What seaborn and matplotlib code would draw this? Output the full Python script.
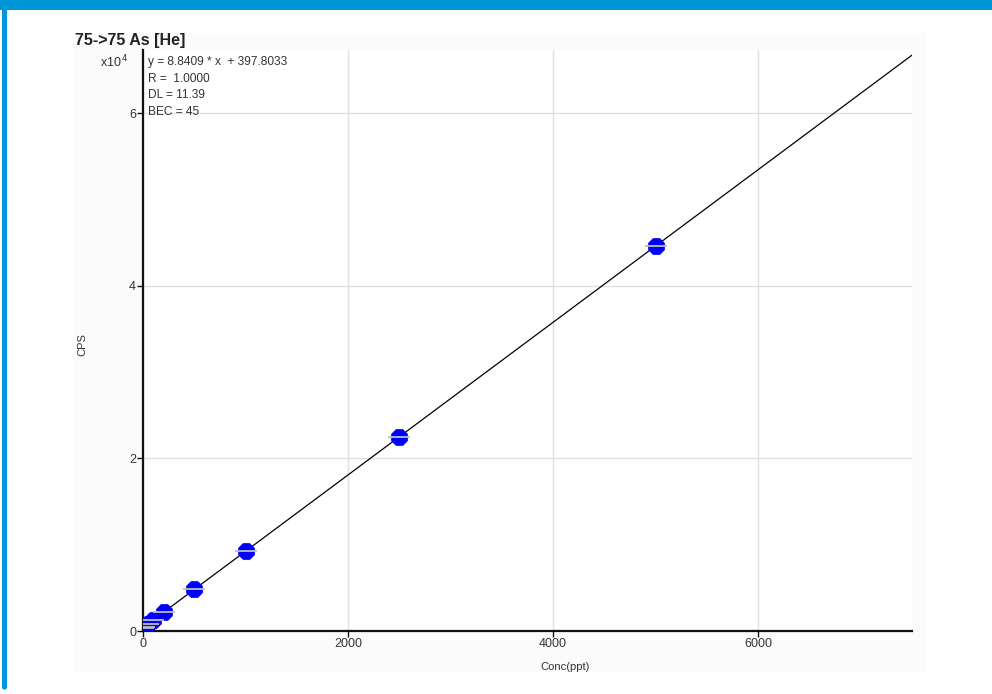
import numpy as np
import pandas as pd
import matplotlib
matplotlib.use("Agg")
import matplotlib.pyplot as plt
from matplotlib.patches import Rectangle, FancyBboxPatch
import seaborn as sns

# calibration standards (ppt) and measured CPS
conc = [0, 10, 50, 100, 200, 500, 1000, 2500, 5000]
cps = [380, 480, 840, 1290, 2170, 4830, 9280, 22450, 44620]
slope = 8.8409
intercept = 397.8033
fit_x = [0, 7500]
stats_lines = ["y = 8.8409 * x  + 397.8033", "R =  1.0000", "DL = 11.39", "BEC = 45"]
x_ticks = [0, 2000, 4000, 6000]
y_ticks = [0, 20000, 40000, 60000]
y_ticklabels = ["0", "2", "4", "6"]

sns.set_theme(style="white")
plt.rcParams['font.family'] = ['Liberation Sans', 'DejaVu Sans']

fig = plt.figure(figsize=(9.92, 6.94), dpi=100)
fig.patch.set_facecolor("white")

# faint plot panel background
fig.patches.append(Rectangle((73 / 992, 1 - 672 / 694), (926 - 73) / 992, (672 - 33) / 694,
                             transform=fig.transFigure, facecolor="#fbfbfb", edgecolor="none", zorder=-2))
# blue frame
blue = "#0096d8"
fig.patches.append(Rectangle((0, 1 - 10 / 694), 1, 10 / 694, transform=fig.transFigure,
                             facecolor=blue, edgecolor="none", zorder=5))
fig.patches.append(FancyBboxPatch((2 / 992, 4 / 694), 5 / 992, 684 / 694,
                                  boxstyle="round,pad=0,rounding_size=0.004",
                                  transform=fig.transFigure, facecolor=blue, edgecolor="none", zorder=5))

ax = fig.add_axes([143 / 992, 1 - 631 / 694, (912 - 143) / 992, (631 - 50) / 694])
ax.set_zorder(2)
ax.set_facecolor("white")

fit_df = pd.DataFrame({"conc": fit_x, "cps": [slope * v + intercept for v in fit_x]})
sns.lineplot(data=fit_df, x="conc", y="cps", color="black", lw=0.9, ax=ax, zorder=3)

pts = pd.DataFrame({"conc": conc, "cps": cps})
sns.scatterplot(data=pts, x="conc", y="cps", marker="8", s=170, color="#0000ff",
                edgecolor="#0000ff", linewidth=0, ax=ax, zorder=4)
ax.scatter(pts["conc"], pts["cps"], marker="_", s=270, color="#bdbdbd", linewidths=1.3, zorder=5)

ax.set_xlim(0, 7500)
ax.set_ylim(0, 67300)
ax.set_xticks(x_ticks)
ax.set_xticklabels([str(t) for t in x_ticks])
ax.set_yticks(y_ticks)
ax.set_yticklabels(y_ticklabels)
ax.grid(True, color="#e0e0e0", lw=1)
ax.set_axisbelow(True)
for side in ["top", "right"]:
    ax.spines[side].set_visible(False)
for side in ["left", "bottom"]:
    ax.spines[side].set_color("#111111")
    ax.spines[side].set_linewidth(1.6)
ax.tick_params(axis="both", which="both", direction="out", length=4, width=1, color="#111111",
               labelsize=9, labelcolor="#333333", pad=1, bottom=True, left=True)
ax.set_xlabel("")
ax.set_ylabel("")

fig.text(75 / 992, 1 - 41 / 694, "75->75 As [He]", fontsize=11.5, fontweight="bold",
         color="#222222", va="center", ha="left", zorder=6)
fig.text(100 / 992, 1 - 62 / 694, "x10$^{\\,4}$", fontsize=9, color="#333333", va="center",
         ha="left", zorder=6)
for i, line in enumerate(stats_lines):
    fig.text(148 / 992, 1 - (62 + i * 16.7) / 694, line, fontsize=8.6, color="#333333",
             va="center", ha="left", zorder=6)
fig.text(82 / 992, 1 - 345 / 694, "CPS", fontsize=8, rotation=90, color="#333333",
         va="center", ha="center", zorder=6)
fig.text(565 / 992, 1 - 667 / 694, "Conc(ppt)", fontsize=8, color="#333333",
         va="center", ha="center", zorder=6)

fig.savefig("out.png", dpi=100)
